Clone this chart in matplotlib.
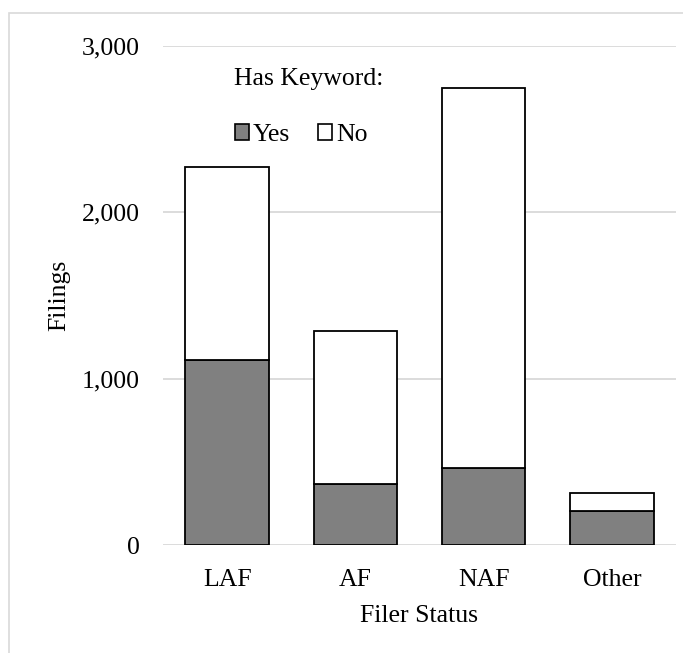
import matplotlib
matplotlib.use("Agg")
import matplotlib.pyplot as plt
from matplotlib.patches import Patch, Rectangle
from matplotlib.ticker import FuncFormatter

categories = ["LAF", "AF", "NAF", "Other"]
yes_vals = [1112, 367, 460, 205]
no_vals = [1161, 917, 2288, 110]

plt.rcParams['font.family'] = ['Liberation Serif', 'DejaVu Serif']
fs = 18.5

fig = plt.figure(figsize=(6.83, 6.53), dpi=100)
ax = fig.add_axes([163/683, 1-545/653, (676-163)/683, (545-46)/653])

x = range(len(categories))
ax.bar(x, yes_vals, width=0.65, color="#808080", edgecolor="black", linewidth=1.3, zorder=3)
ax.bar(x, no_vals, bottom=yes_vals, width=0.65, color="white", edgecolor="black", linewidth=1.3, zorder=3)

ax.set_xlim(-0.5, 3.5)
ax.set_ylim(0, 3000)
ax.set_yticks([0, 1000, 2000, 3000])
ax.yaxis.set_major_formatter(FuncFormatter(lambda v, p: f"{int(v):,}"))
ax.set_xticks(list(x))
ax.set_xticklabels(categories)
ax.grid(axis="y", color="#d9d9d9", linewidth=1.3, zorder=0)
ax.tick_params(axis="both", length=0, labelsize=fs)
ax.tick_params(axis="y", pad=17)
ax.tick_params(axis="x", pad=17.5)
for s in ax.spines.values():
    s.set_visible(False)

ax.set_ylabel("Filings", fontsize=fs, labelpad=8)
ax.set_xlabel("Filer Status", fontsize=fs, labelpad=10)

# legend title and entries
fig.text(309/683, 1-79/653, "Has Keyword:", fontsize=fs, ha="center", va="center")
handles = [Patch(facecolor="#808080", edgecolor="black", linewidth=1.2, label="Yes"),
           Patch(facecolor="white", edgecolor="black", linewidth=1.2, label="No")]
fig.legend(handles=handles, loc="center", bbox_to_anchor=(301/683, 1-135/653), ncol=2,
           frameon=False, fontsize=fs, handlelength=0.55, handleheight=0.55,
           handletextpad=0.15, columnspacing=1.1)

# outer chart border
fig.patches.append(Rectangle((9/683, -0.1), 1.1, 1.1 - 13/653, transform=fig.transFigure,
                             fill=False, edgecolor="#d9d9d9", linewidth=1.2))

fig.savefig("out.png", dpi=100)
